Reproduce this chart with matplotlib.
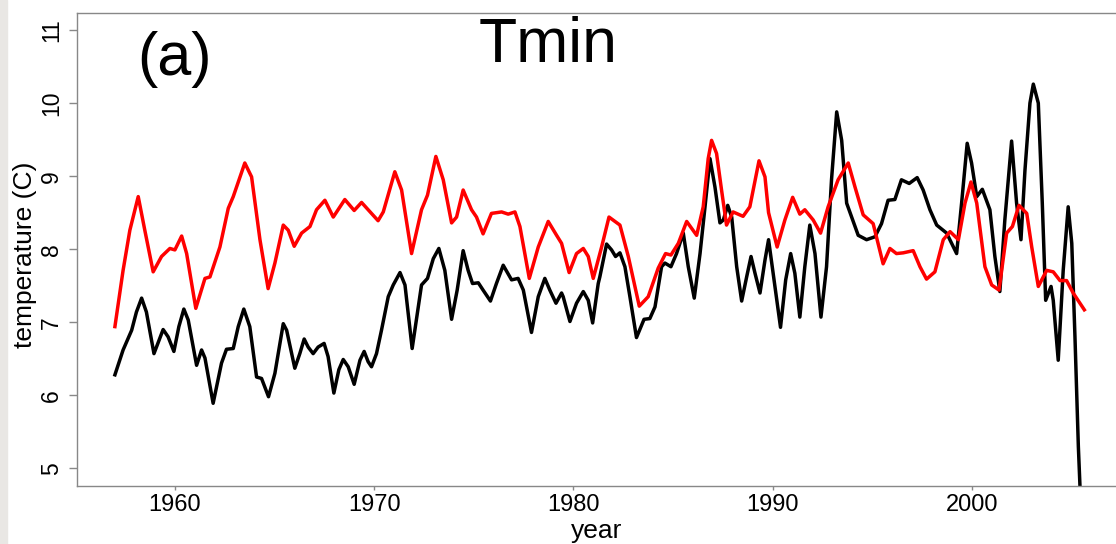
import numpy as np
import matplotlib
matplotlib.use("Agg")
from matplotlib import pyplot as plt
from matplotlib.patches import Rectangle

plt.rcParams['font.family'] = ['Liberation Sans', 'DejaVu Sans']

# black series (station Tmin)
black_year = [1956.99, 1957.40, 1957.83, 1958.07, 1958.33, 1958.57, 1958.95, 1959.41, 1959.66, 1959.95,
              1960.20, 1960.45, 1960.67, 1961.09, 1961.34, 1961.51, 1961.92, 1962.34, 1962.59, 1962.93,
              1963.18, 1963.46, 1963.76, 1964.10, 1964.35, 1964.70, 1965.02, 1965.44, 1965.61, 1966.02,
              1966.27, 1966.49, 1966.69, 1966.94, 1967.19, 1967.49, 1967.69, 1967.98, 1968.23, 1968.45,
              1968.70, 1969.00, 1969.29, 1969.50, 1969.70, 1969.87, 1970.12, 1970.37, 1970.71, 1970.96,
              1971.30, 1971.55, 1971.91, 1972.38, 1972.68, 1972.97, 1973.25, 1973.55, 1973.89, 1974.17,
              1974.47, 1974.72, 1974.94, 1975.23, 1975.47, 1975.84, 1976.14, 1976.48, 1976.90, 1977.23,
              1977.49, 1977.90, 1978.24, 1978.57, 1978.82, 1979.13, 1979.41, 1979.49, 1979.83, 1980.16,
              1980.50, 1980.75, 1980.97, 1981.25, 1981.33, 1981.67, 1981.92, 1982.12, 1982.34, 1982.59,
              1982.84, 1983.17, 1983.55, 1983.84, 1984.10, 1984.43, 1984.60, 1984.90, 1985.18, 1985.52,
              1985.77, 1986.07, 1986.36, 1986.61, 1986.86, 1987.11, 1987.36, 1987.53, 1987.75, 1987.95,
              1988.20, 1988.45, 1988.70, 1988.92, 1989.12, 1989.37, 1989.62, 1989.80, 1990.03, 1990.40,
              1990.66, 1990.91, 1991.12, 1991.37, 1991.62, 1991.87, 1992.13, 1992.43, 1992.71, 1992.96,
              1993.22, 1993.47, 1993.72, 1993.97, 1994.30, 1994.72, 1995.14, 1995.47, 1995.80, 1996.14,
              1996.47, 1996.86, 1997.26, 1997.56, 1997.90, 1998.24, 1998.74, 1999.24, 1999.49, 1999.77,
              1999.99, 2000.25, 2000.53, 2000.91, 2001.16, 2001.41, 2001.66, 2002.00, 2002.25, 2002.47,
              2002.67, 2002.92, 2003.09, 2003.34, 2003.54, 2003.71, 2003.98, 2004.09, 2004.34, 2004.59,
              2004.84, 2005.02, 2005.18, 2005.35, 2005.47]
black_temp = [6.28, 6.62, 6.89, 7.14, 7.33, 7.14, 6.57, 6.90, 6.80, 6.60,
              6.94, 7.18, 7.03, 6.41, 6.62, 6.51, 5.89, 6.44, 6.63, 6.64,
              6.94, 7.18, 6.94, 6.25, 6.23, 5.98, 6.30, 6.98, 6.89, 6.37,
              6.57, 6.77, 6.66, 6.57, 6.66, 6.71, 6.53, 6.03, 6.35, 6.49,
              6.39, 6.15, 6.48, 6.60, 6.46, 6.39, 6.57, 6.89, 7.35, 7.51,
              7.68, 7.51, 6.64, 7.51, 7.60, 7.87, 8.01, 7.71, 7.04, 7.44,
              7.98, 7.71, 7.53, 7.54, 7.44, 7.29, 7.53, 7.78, 7.58, 7.60,
              7.44, 6.86, 7.35, 7.60, 7.44, 7.26, 7.40, 7.35, 7.01, 7.26,
              7.42, 7.30, 6.99, 7.53, 7.62, 8.07, 7.99, 7.90, 7.95, 7.76,
              7.35, 6.79, 7.04, 7.05, 7.21, 7.76, 7.81, 7.76, 7.94, 8.22,
              7.76, 7.33, 7.94, 8.58, 9.24, 8.85, 8.36, 8.40, 8.60, 8.44,
              7.76, 7.29, 7.62, 7.90, 7.67, 7.40, 7.85, 8.13, 7.67, 6.93,
              7.58, 7.94, 7.67, 7.07, 7.76, 8.33, 7.94, 7.07, 7.76, 8.95,
              9.88, 9.49, 8.63, 8.44, 8.19, 8.13, 8.17, 8.35, 8.67, 8.68,
              8.95, 8.90, 8.98, 8.81, 8.54, 8.33, 8.22, 7.94, 8.63, 9.45,
              9.18, 8.72, 8.82, 8.54, 7.90, 7.42, 8.40, 9.48, 8.63, 8.13,
              9.08, 10.00, 10.26, 10.00, 8.63, 7.30, 7.49, 7.30, 6.48, 7.71,
              8.58, 8.08, 6.80, 5.30, 4.50]

# red series
red_year = [1956.99, 1957.40, 1957.74, 1958.16, 1958.49, 1958.91, 1959.33, 1959.75, 1960.00, 1960.34,
            1960.59, 1961.05, 1961.51, 1961.76, 1962.26, 1962.68, 1962.93, 1963.51, 1963.85, 1964.27,
            1964.68, 1965.02, 1965.44, 1965.69, 1965.99, 1966.36, 1966.78, 1967.11, 1967.53, 1967.95,
            1968.53, 1969.00, 1969.37, 1970.20, 1970.46, 1971.04, 1971.38, 1971.88, 1972.38, 1972.68,
            1973.10, 1973.47, 1973.89, 1974.14, 1974.47, 1974.89, 1975.14, 1975.47, 1975.89, 1976.40,
            1976.73, 1977.07, 1977.32, 1977.79, 1978.24, 1978.74, 1979.16, 1979.41, 1979.79, 1980.16,
            1980.50, 1980.75, 1981.00, 1981.42, 1981.79, 1982.34, 1982.76, 1983.31, 1983.76, 1984.26,
            1984.63, 1984.90, 1985.27, 1985.69, 1986.19, 1986.52, 1986.77, 1986.94, 1987.19, 1987.44,
            1987.69, 1988.02, 1988.52, 1988.86, 1989.32, 1989.62, 1989.80, 1990.23, 1990.62, 1991.01,
            1991.37, 1991.62, 1992.04, 1992.41, 1992.79, 1993.29, 1993.80, 1994.14, 1994.55, 1995.05,
            1995.55, 1995.89, 1996.22, 1996.56, 1997.06, 1997.40, 1997.73, 1998.15, 1998.57, 1998.91,
            1999.33, 1999.66, 1999.96, 2000.25, 2000.66, 2001.00, 2001.37, 2001.75, 2002.04, 2002.37,
            2002.76, 2003.01, 2003.34, 2003.76, 2004.09, 2004.43, 2004.76, 2005.09, 2005.65]
red_temp = [6.94, 7.71, 8.26, 8.72, 8.26, 7.69, 7.90, 8.01, 7.99, 8.18,
            7.94, 7.19, 7.60, 7.62, 8.03, 8.56, 8.72, 9.18, 8.99, 8.13,
            7.46, 7.81, 8.33, 8.26, 8.04, 8.22, 8.31, 8.54, 8.67, 8.44,
            8.68, 8.53, 8.64, 8.39, 8.51, 9.06, 8.81, 7.94, 8.54, 8.74,
            9.27, 8.95, 8.36, 8.44, 8.81, 8.54, 8.44, 8.21, 8.49, 8.51,
            8.48, 8.51, 8.31, 7.60, 8.03, 8.38, 8.19, 8.08, 7.68, 7.94,
            8.01, 7.90, 7.60, 8.03, 8.44, 8.33, 7.90, 7.22, 7.35, 7.74,
            7.94, 7.92, 8.08, 8.38, 8.19, 8.58, 9.24, 9.49, 9.31, 8.81,
            8.33, 8.51, 8.45, 8.58, 9.21, 8.99, 8.50, 8.03, 8.40, 8.71,
            8.48, 8.54, 8.40, 8.22, 8.58, 8.95, 9.18, 8.85, 8.47, 8.35,
            7.80, 8.01, 7.94, 7.95, 7.98, 7.76, 7.59, 7.69, 8.13, 8.24,
            8.13, 8.63, 8.92, 8.63, 7.76, 7.51, 7.44, 8.22, 8.31, 8.60,
            8.49, 8.03, 7.49, 7.71, 7.69, 7.57, 7.57, 7.40, 7.17]

x_ticks = [1960, 1970, 1980, 1990, 2000]
y_ticks = [5, 6, 7, 8, 9, 10, 11]

fig = plt.figure(figsize=(11.16, 5.44), dpi=100)
ax = fig.add_axes([0.0687, 0.1072, 0.9313, 0.8688])

ax.plot(black_year, black_temp, color='black', lw=2.5, solid_joinstyle='round')
ax.plot(red_year, red_temp, color='red', lw=2.5, solid_joinstyle='round')

ax.set_xlim(1955.07, 2007.24)
ax.set_ylim(4.762, 11.233)
ax.set_xticks(x_ticks)
ax.set_yticks(y_ticks)
ax.tick_params(axis='y', direction='out', length=6, width=1, color='#888888',
               labelsize=16.5, pad=4, labelrotation=90)
ax.tick_params(axis='x', direction='out', length=3, width=1, color='#888888',
               labelsize=17, pad=3)
for lab in ax.get_yticklabels():
    lab.set_verticalalignment('center')
for side in ['left', 'bottom', 'top']:
    ax.spines[side].set_color('#888888')
    ax.spines[side].set_linewidth(1)
ax.spines['right'].set_visible(False)

ax.set_xlabel('year', fontsize=19, labelpad=2)
ax.set_ylabel('temperature (C)', fontsize=19)
ax.yaxis.set_label_coords(-0.038, 0.488)

ax.text(0.454, 0.8963, 'Tmin', transform=ax.transAxes, fontsize=45,
        ha='center', va='baseline')
ax.text(0.0941, 0.8688, '(a)', transform=ax.transAxes, fontsize=44,
        ha='center', va='baseline')

# light strip on the left edge of the screenshot
fig.patches.append(Rectangle((0, 0), 7 / 1116, 1, transform=fig.transFigure,
                             color='#e9e7e4', zorder=-1))

fig.savefig('out.png', dpi=100)
